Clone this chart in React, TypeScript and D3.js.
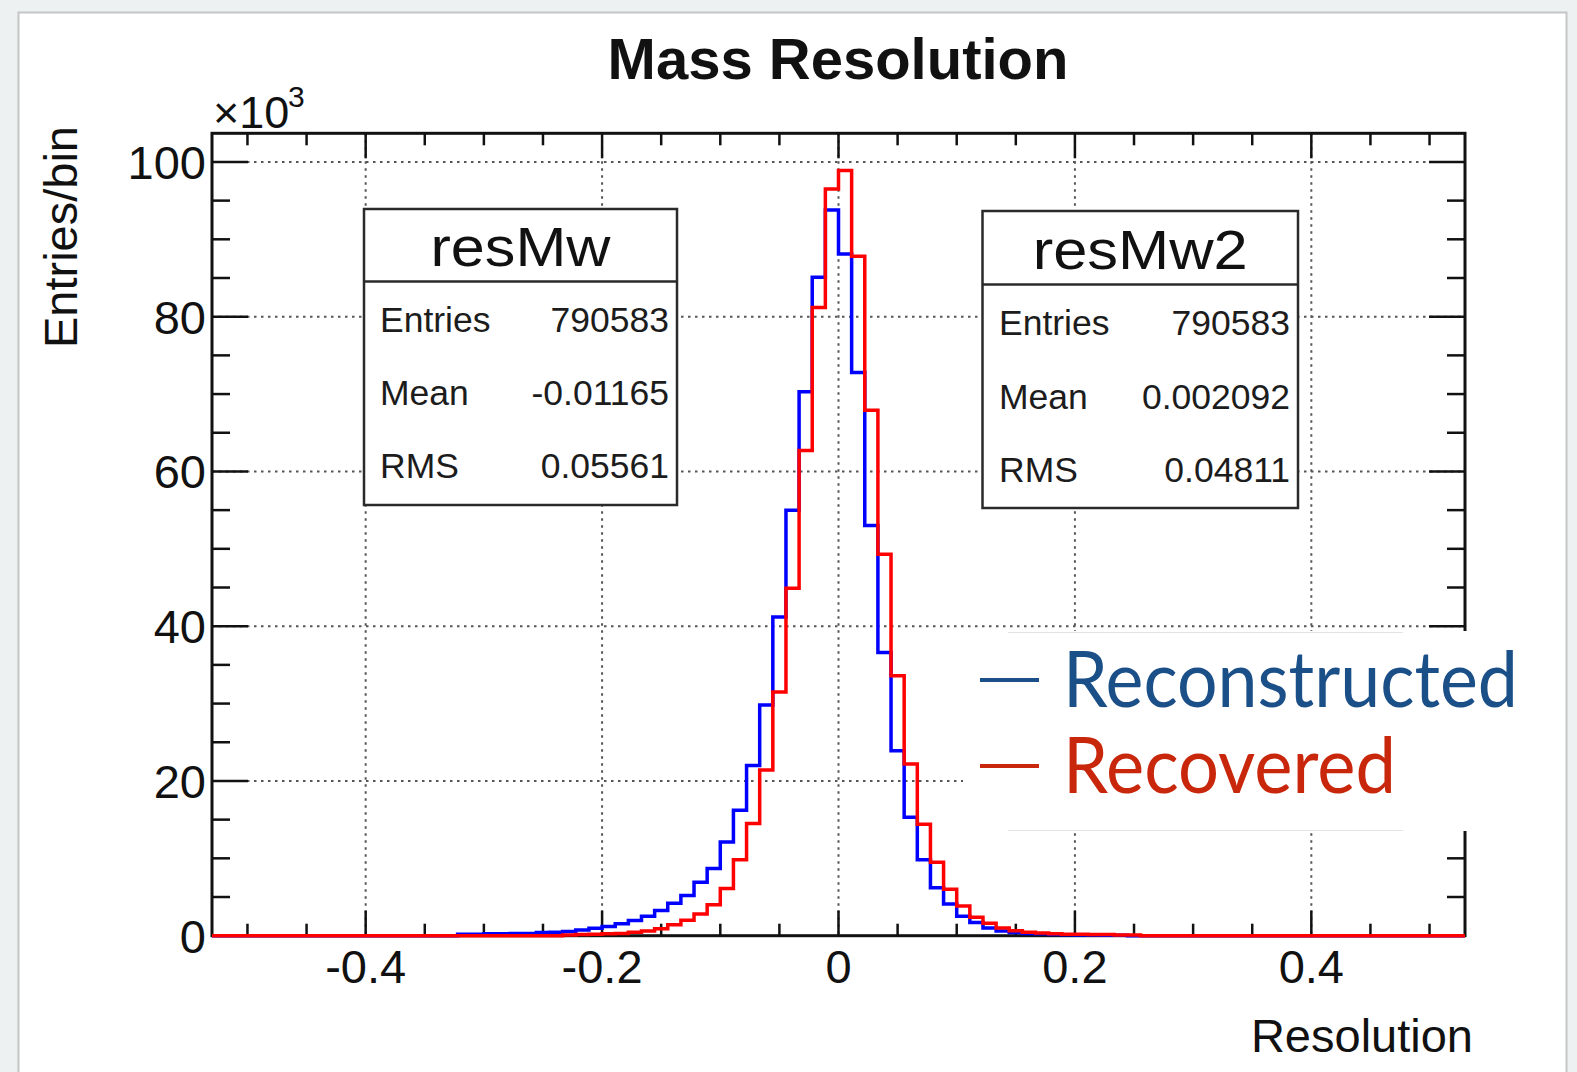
import React from 'react';
import * as d3 from 'd3';

// ---------- data ----------
const BIN_WIDTH = 1 / 90;
const FIRST_BIN_INDEX = -47; // first bin starts at -47/90

// Entries per bin (x10^3), bins k = -47 .. 46
const reconstructed = [
  0, 0, 0, 0, 0, 0, 0, 0, 0, 0, 0, 0, 0, 0, 0, 0, 0, 0,
  0.2, 0.2, 0.25, 0.25, 0.3, 0.3, 0.4, 0.45, 0.55, 0.75, 0.95, 1.2, 1.55, 1.95, 2.5, 3.25, 4.2, 5.2, 6.9, 8.7,
  12.1, 16.2, 22.0, 29.8, 41.2, 55.0, 70.3, 85.1, 93.8, 88.1, 72.8, 53.0, 36.6, 23.9, 15.3, 9.8, 6.2, 4.1,
  2.5, 1.7, 1.0, 0.6, 0.4, 0.3, 0.25, 0.15, 0.12, 0.1, 0.08, 0.06, 0.05,
  0, 0, 0, 0, 0, 0, 0, 0, 0, 0, 0, 0, 0, 0, 0, 0, 0, 0, 0, 0, 0, 0, 0, 0, 0,
];

const recovered = [
  0, 0, 0, 0, 0, 0, 0, 0, 0, 0, 0, 0, 0, 0, 0, 0, 0, 0, 0, 0, 0, 0, 0, 0, 0, 0,
  0.1, 0.15, 0.2, 0.25, 0.3, 0.45, 0.6, 0.9, 1.4, 2.0, 2.8, 4.0, 6.1, 9.8, 14.5, 21.4, 31.5, 44.9,
  62.7, 81.2, 96.5, 98.9, 87.8, 67.9, 49.3, 33.6, 22.2, 14.4, 9.5, 6.0, 3.85, 2.4, 1.6, 1.0,
  0.65, 0.45, 0.35, 0.25, 0.2, 0.2, 0.15, 0.15, 0.1, 0.1,
  0, 0, 0, 0, 0, 0, 0, 0, 0, 0, 0, 0, 0, 0, 0, 0, 0, 0, 0, 0, 0, 0, 0, 0,
];

const xMajorTicks = [-0.4, -0.2, 0, 0.2, 0.4];
const xTickLabels = ['-0.4', '-0.2', '0', '0.2', '0.4'];
const yMajorTicks = [0, 20, 40, 60, 80, 100];
const yTickLabels = ['0', '20', '40', '60', '80', '100'];

const statsResMw = [
  ['Entries', '790583'],
  ['Mean', '-0.01165'],
  ['RMS', '0.05561'],
];
const statsResMw2 = [
  ['Entries', '790583'],
  ['Mean', '0.002092'],
  ['RMS', '0.04811'],
];

const legendLabels = ['Reconstructed', 'Recovered'];

// ---------- layout ----------
const W = 1577;
const H = 1072;
const X_DOMAIN: [number, number] = [-0.53, 0.53];
const Y_DOMAIN: [number, number] = [0, 103.7];
const FRAME = { left: 212, right: 1465, top: 133.3, bottom: 935.7 };
const ROOT_FONT = "'Liberation Sans', Arial, Helvetica, sans-serif";
const LEGEND_FONT = "Lato, 'Noto Sans', sans-serif";
const BLUE = '#0000ff';
const RED = '#ff0000';

const x = d3.scaleLinear().domain(X_DOMAIN).range([FRAME.left, FRAME.right]);
const y = d3.scaleLinear().domain(Y_DOMAIN).range([FRAME.bottom, FRAME.top]);

function histPath(values: number[]): string {
  const pts: [number, number][] = [[X_DOMAIN[0], 0]];
  values.forEach((v, i) => pts.push([(FIRST_BIN_INDEX + i) * BIN_WIDTH, v]));
  pts.push([(FIRST_BIN_INDEX + values.length) * BIN_WIDTH, 0]);
  pts.push([X_DOMAIN[1], 0]);
  const line = d3
    .line<[number, number]>()
    .x((d) => x(d[0]))
    .y((d) => y(d[1]))
    .curve(d3.curveStepAfter);
  return line(pts) || '';
}

const xMinor = d3.range(-0.5, 0.5001, 0.05).filter(
  (t) => !xMajorTicks.some((m) => Math.abs(m - t) < 1e-6)
);
const yMinor = d3.range(0, 100.001, 5).filter((t) => t % 20 !== 0);

type StatBoxProps = {
  title: string;
  rows: string[][];
  left: number;
  right: number;
  top: number;
  bottom: number;
  divider: number;
  titleBaseline: number;
  titleLength: number;
  rowBaselines: number[];
  textLeft: number;
  textRight: number;
};

function StatBox(p: StatBoxProps) {
  return (
    <g>
      <rect
        x={p.left}
        y={p.top}
        width={p.right - p.left}
        height={p.bottom - p.top}
        fill="#fff"
        stroke="#2a2a2a"
        strokeWidth={2.5}
      />
      <line x1={p.left} x2={p.right} y1={p.divider} y2={p.divider} stroke="#2a2a2a" strokeWidth={2.5} />
      <text
        x={(p.left + p.right) / 2}
        y={p.titleBaseline}
        textAnchor="middle"
        fontFamily={ROOT_FONT}
        fontSize={55}
        fill="#111"
        textLength={p.titleLength}
        lengthAdjust="spacingAndGlyphs"
      >
        {p.title}
      </text>
      {p.rows.map((r, i) => (
        <g key={r[0]}>
          <text x={p.textLeft} y={p.rowBaselines[i]} fontFamily={ROOT_FONT} fontSize={35.5} fill="#1c1c1c">
            {r[0]}
          </text>
          <text
            x={p.textRight}
            y={p.rowBaselines[i]}
            textAnchor="end"
            fontFamily={ROOT_FONT}
            fontSize={35.5}
            fill="#1c1c1c"
          >
            {r[1]}
          </text>
        </g>
      ))}
    </g>
  );
}

export default function App() {
  const fw = FRAME.right - FRAME.left;
  const fh = FRAME.bottom - FRAME.top;
  return (
    <svg
      width={W}
      height={H}
      viewBox={`0 0 ${W} ${H}`}
      style={{ position: 'absolute', left: 0, top: 0, display: 'block' }}
    >
      {/* page / card */}
      <rect x={0} y={0} width={W} height={H} fill="#eef1f1" />
      <rect x={18.5} y={12.5} width={1548} height={1100} fill="#fff" stroke="#c4c6c6" strokeWidth={2} />

      {/* title */}
      <text x={838} y={79} textAnchor="middle" fontFamily={ROOT_FONT} fontWeight="bold" fontSize={58} fill="#111">
        Mass Resolution
      </text>

      {/* grid */}
      <g stroke="#555" strokeWidth={2} strokeDasharray="2.5,4.5">
        {xMajorTicks.map((t) => (
          <line key={'gx' + t} x1={x(t)} x2={x(t)} y1={FRAME.top} y2={FRAME.bottom} />
        ))}
        {yMajorTicks
          .filter((t) => t > 0)
          .map((t) => (
            <line key={'gy' + t} x1={FRAME.left} x2={FRAME.right} y1={y(t)} y2={y(t)} />
          ))}
      </g>

      {/* ticks */}
      <g stroke="#111" strokeWidth={2.5}>
        {xMajorTicks.map((t) => (
          <g key={'tx' + t}>
            <line x1={x(t)} x2={x(t)} y1={FRAME.bottom} y2={FRAME.bottom - 25} />
            <line x1={x(t)} x2={x(t)} y1={FRAME.top} y2={FRAME.top + 25} />
          </g>
        ))}
        {xMinor.map((t) => (
          <g key={'mx' + t}>
            <line x1={x(t)} x2={x(t)} y1={FRAME.bottom} y2={FRAME.bottom - 12} />
            <line x1={x(t)} x2={x(t)} y1={FRAME.top} y2={FRAME.top + 12} />
          </g>
        ))}
        {yMajorTicks.map((t) => (
          <g key={'ty' + t}>
            <line x1={FRAME.left} x2={FRAME.left + 36} y1={y(t)} y2={y(t)} />
            <line x1={FRAME.right} x2={FRAME.right - 36} y1={y(t)} y2={y(t)} />
          </g>
        ))}
        {yMinor.map((t) => (
          <g key={'my' + t}>
            <line x1={FRAME.left} x2={FRAME.left + 18} y1={y(t)} y2={y(t)} />
            <line x1={FRAME.right} x2={FRAME.right - 18} y1={y(t)} y2={y(t)} />
          </g>
        ))}
      </g>

      {/* frame */}
      <rect x={FRAME.left} y={FRAME.top} width={fw} height={fh} fill="none" stroke="#111" strokeWidth={3} />

      {/* histograms */}
      <path d={histPath(reconstructed)} fill="none" stroke={BLUE} strokeWidth={3.5} />
      <path d={histPath(recovered)} fill="none" stroke={RED} strokeWidth={3.5} />

      {/* tick labels */}
      {xMajorTicks.map((t, i) => (
        <text key={'lx' + t} x={x(t)} y={983} textAnchor="middle" fontFamily={ROOT_FONT} fontSize={47} fill="#111">
          {xTickLabels[i]}
        </text>
      ))}
      {yMajorTicks.map((t, i) => (
        <text
          key={'ly' + t}
          x={206}
          y={y(t) + 17}
          textAnchor="end"
          fontFamily={ROOT_FONT}
          fontSize={47}
          fill="#111"
        >
          {yTickLabels[i]}
        </text>
      ))}
      <text x={213} y={128} fontFamily={ROOT_FONT} fontSize={45} fill="#111">
        ×10
      </text>
      <text x={288} y={107} fontFamily={ROOT_FONT} fontSize={30} fill="#111">
        3
      </text>

      {/* axis titles */}
      <text x={1473} y={1052} textAnchor="end" fontFamily={ROOT_FONT} fontSize={47} fill="#111">
        Resolution
      </text>
      <text
        transform="translate(77,126) rotate(-90)"
        textAnchor="end"
        fontFamily={ROOT_FONT}
        fontSize={47}
        fill="#111"
      >
        Entries/bin
      </text>

      {/* stat boxes */}
      <StatBox
        title="resMw"
        rows={statsResMw}
        left={364}
        right={677}
        top={209}
        bottom={505}
        divider={281.5}
        titleBaseline={266}
        titleLength={180}
        rowBaselines={[331.5, 405, 478]}
        textLeft={380}
        textRight={669}
      />
      <StatBox
        title="resMw2"
        rows={statsResMw2}
        left={982.5}
        right={1298}
        top={211}
        bottom={508}
        divider={284.5}
        titleBaseline={269}
        titleLength={215}
        rowBaselines={[334.5, 409, 482]}
        textLeft={999}
        textRight={1290}
      />

      {/* legend overlay */}
      <rect x={963} y={631} width={600} height={200} fill="#fff" />
      <line x1={1008} x2={1403} y1={632.5} y2={632.5} stroke="#e2e4e4" strokeWidth={1} />
      <line x1={1008} x2={1403} y1={830.5} y2={830.5} stroke="#e2e4e4" strokeWidth={1} />
      <line x1={980} x2={1039} y1={680} y2={680} stroke="#1b4f88" strokeWidth={4} />
      <text
        x={1063}
        y={707}
        fontFamily={LEGEND_FONT}
        fontSize={77}
        fill="#1b4f88"
        textLength={455}
        lengthAdjust="spacingAndGlyphs"
      >
        {legendLabels[0]}
      </text>
      <line x1={980} x2={1039} y1={766} y2={766} stroke="#c9270c" strokeWidth={4} />
      <text
        x={1063}
        y={792.5}
        fontFamily={LEGEND_FONT}
        fontSize={77}
        fill="#c9270c"
        textLength={333}
        lengthAdjust="spacingAndGlyphs"
      >
        {legendLabels[1]}
      </text>
    </svg>
  );
}
